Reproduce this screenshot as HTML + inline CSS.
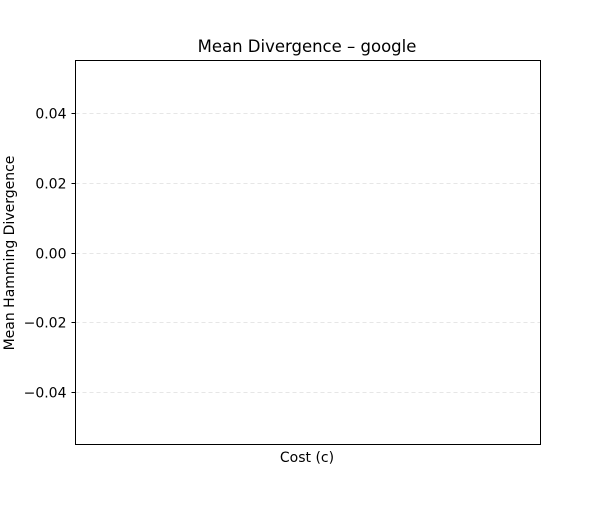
<!DOCTYPE html>
<html><head><meta charset="utf-8"><style>
html,body{margin:0;padding:0;background:#fff;}
svg text{font-family:"DejaVu Sans","Liberation Sans",sans-serif;fill:#000;}
</style></head><body>
<svg id="chart" width="600" height="500">
<rect x="0" y="0" width="600" height="500" fill="#fff"/>
<text x="307" y="52" font-size="16.5" text-anchor="middle">Mean Divergence – google</text>
<text x="307" y="462" font-size="14" text-anchor="middle">Cost (c)</text>
<text transform="translate(14,253) rotate(-90)" font-size="14" text-anchor="middle">Mean Hamming Divergence</text>
<g id="grid"></g>
<g id="yticks"></g>
<rect x="75.5" y="60.5" width="465" height="384" fill="none" stroke="#000" stroke-width="1"/>
</svg>
<script>
const yTicks = [-0.04, -0.02, 0.00, 0.02, 0.04];
const yTickLabels = ["\u22120.04", "\u22120.02", "0.00", "0.02", "0.04"];
const yMin = -0.0549, yMax = 0.0549;
const plotTop = 60.5, plotBottom = 444.5, plotLeft = 75.5, plotRight = 540.5;
function yScale(v){ return plotBottom - (v - yMin) / (yMax - yMin) * (plotBottom - plotTop); }
const ns = "http://www.w3.org/2000/svg";
const grid = document.getElementById('grid');
const yt = document.getElementById('yticks');
yTicks.forEach((t, i) => {
  const y = Math.round(yScale(t)) + 0.5;
  const g = document.createElementNS(ns, 'line');
  
  
  g.setAttribute('x1', plotLeft); g.setAttribute('x2', plotRight);
  g.setAttribute('y1', y); g.setAttribute('y2', y);
  g.setAttribute('stroke', '#e6e6e6'); g.setAttribute('stroke-dasharray', '4,3');
  grid.appendChild(g);
  const tk = document.createElementNS(ns, 'line');
  
  
  tk.setAttribute('x1', plotLeft - 4); tk.setAttribute('x2', plotLeft);
  tk.setAttribute('y1', y); tk.setAttribute('y2', y);
  tk.setAttribute('stroke', '#000');
  yt.appendChild(tk);
  const tx = document.createElementNS(ns, 'text');
  
  
  tx.setAttribute('x', plotLeft - 9); tx.setAttribute('y', y + 5);
  tx.setAttribute('font-size', '14'); tx.setAttribute('text-anchor', 'end');
  tx.textContent = yTickLabels[i];
  yt.appendChild(tx);
});
</script>
</body></html>
